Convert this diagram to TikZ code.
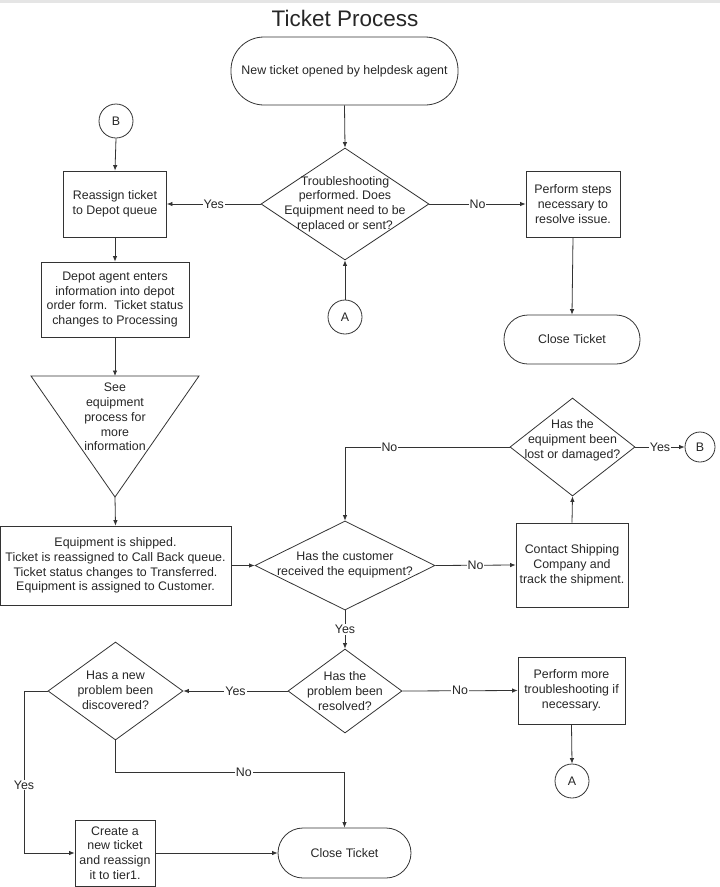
\documentclass[tikz,border=0pt]{standalone}
\usepackage{fontspec}
\setmainfont{Liberation Sans}
\usetikzlibrary{shapes.geometric,arrows.meta}
\frenchspacing
\begin{document}
\begin{tikzpicture}[x=1pt,y=-1pt,
  every node/.style={font=\fontsize{12.4}{14.8}\selectfont, text=black!85},
  box/.style={draw=black!80, line width=0.8pt, rectangle, align=center, inner sep=0pt},
  term/.style={draw=black!80, line width=0.8pt, rectangle, align=center, inner sep=0pt},
  dia/.style={draw=black!80, line width=0.8pt, diamond, inner sep=0pt},
  circ/.style={draw=black!80, line width=0.8pt, circle, minimum size=34pt, inner sep=0pt},
  txt/.style={align=center, inner sep=0pt},
  lbl/.style={fill=white, inner sep=1pt},
  arr/.style={draw=black!80, line width=0.8pt, -{Latex[length=5.5pt,width=4.5pt]}},
  ln/.style={draw=black!80, line width=0.8pt}]
\useasboundingbox (0,0) rectangle (720,887);
\fill[black!10] (0,0) rectangle (720,3);

\node[font=\fontsize{22.5}{26}\selectfont] (title) at (345,18) {Ticket Process};

% start
\node[term, rounded corners=33pt, minimum width=227pt, minimum height=68pt] (start) at (344.5,71) {New ticket opened by helpdesk agent};

% decision 1
\node[dia, minimum width=168pt, minimum height=112pt] (d1) at (345,204) {};
\node[txt] (d1t) at (345,204) {Troubleshooting\\performed. Does\\Equipment need to be\\replaced or sent?};

% B top
\node[circ] (btop) at (116,121) {B};
\node[box, minimum width=103pt, minimum height=66pt] (reassign) at (115,204) {Reassign ticket\\to Depot queue};
\node[box, minimum width=94pt, minimum height=66pt] (perf) at (573,204) {Perform steps\\necessary to\\resolve issue.};
\node[box, minimum width=148pt, minimum height=75pt] (depot) at (115,299.5) {Depot agent enters\\information into depot\\order form.\ \ Ticket status\\changes to Processing};
\node[circ] (atop) at (345,317) {A};
\node[term, rounded corners=24pt, minimum width=136pt, minimum height=49pt] (close1) at (572,339.5) {Close Ticket};

% triangle
\coordinate (tritop) at (115,376);
\coordinate (triapex) at (115,497);
\draw[ln] (31,376) -- (199,376) -- (triapex) -- cycle;
\node[txt] (trit) at (115,417) {See\\equipment\\process for\\more\\information};

\node[box, minimum width=231pt, minimum height=79pt] (ship) at (115.5,565.5) {Equipment is shipped.\\Ticket is reassigned to Call Back queue.\\Ticket status changes to Transferred.\\Equipment is assigned to Customer.};

\node[dia, minimum width=180pt, minimum height=89pt] (cust) at (345,565.5) {};
\node[txt] (custt) at (345,565) {Has the customer\\received the equipment?};

\node[box, minimum width=112pt, minimum height=84pt] (contact) at (572,565) {Contact Shipping\\Company and\\track the shipment.};

\node[dia, minimum width=125pt, minimum height=98pt] (lost) at (572.5,447) {};
\node[txt] (lostt) at (572.5,440) {Has the\\equipment been\\lost or damaged?};
\node[circ, minimum size=30pt] (bright) at (700,447) {B};

\node[dia, minimum width=114pt, minimum height=84pt] (res) at (345,691) {};
\node[txt] (rest) at (345,691) {Has the\\problem been\\resolved?};

\node[dia, minimum width=135pt, minimum height=98pt] (np) at (115.5,691) {};
\node[txt] (npt) at (115.5,690) {Has a new\\problem been\\discovered?};

\node[box, minimum width=107pt, minimum height=67pt] (more) at (571.5,690.5) {Perform more\\troubleshooting if\\necessary.};
\node[circ] (abot) at (572,781) {A};

\node[box, minimum width=80pt, minimum height=66pt] (create) at (115,853) {Create a\\new ticket\\and reassign\\it to tier1.};
\node[term, rounded corners=25pt, minimum width=133pt, minimum height=50pt] (close2) at (344.5,853) {Close Ticket};

% connectors
\draw[arr] (start.south) -- (d1.north);
\draw[arr] (btop.south) -- (reassign.north);
\draw[arr] (d1.west) -- node[lbl]{Yes} (reassign.east);
\draw[arr] (d1.east) -- node[lbl]{No} (perf.west);
\draw[arr] (atop.north) -- (d1.south);
\draw[arr] (reassign.south) -- (depot.north);
\draw[arr] (perf.south) -- (close1.north);
\draw[arr] (depot.south) -- (tritop);
\draw[arr] (triapex) -- (ship.north);
\draw[arr] (ship.east) -- (cust.west);
\draw[arr] (cust.east) -- node[lbl]{No} (contact.west);
\draw[arr] (contact.north) -- (lost.south);
\draw[arr] (lost.east) -- node[lbl]{Yes} (bright.west);
\draw[arr] (lost.west) -| node[lbl,pos=0.365]{No} (cust.north);
\draw[arr] (cust.south) -- node[lbl]{Yes} (res.north);
\draw[arr] (res.west) -- node[lbl]{Yes} (np.east);
\draw[arr] (res.east) -- node[lbl]{No} (more.west);
\draw[arr] (more.south) -- (abot.north);
\coordinate (nojoin) at (115.5,772);
\draw[arr] (np.south) -- (nojoin) -| node[lbl,pos=0.28]{No} (close2.north);
\coordinate (yesjoin) at (24,691);
\draw[arr] (np.west) -- (yesjoin) |- node[lbl,pos=0.29]{Yes} (create.west);
\draw[arr] (create.east) -- (close2.west);
\end{tikzpicture}
\end{document}
